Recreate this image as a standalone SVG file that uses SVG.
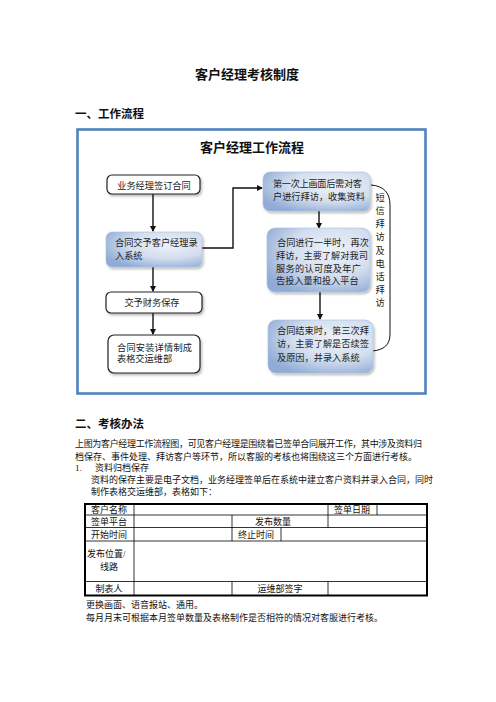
<svg xmlns="http://www.w3.org/2000/svg" width="496" height="702" viewBox="0 0 496 702">
<style>
text{font-family:"Liberation Serif","Noto Sans CJK SC",serif;fill:#111;}
.h{font-family:"Noto Sans CJK SC",sans-serif;font-weight:bold;}
.t{font-size:9px;}
.b{font-size:9.2px;fill:#222;}
.wbox{fill:#fff;stroke:#222;stroke-width:1.2;}
.bbox{fill:url(#bg);stroke:#a8bddb;stroke-width:0.6;}
.ln{fill:none;stroke:#111;stroke-width:1.4;}
.cv{fill:none;stroke:#111;stroke-width:1;}
.tb{fill:none;stroke:#000;stroke-width:0.8;}
</style>
<defs>
<radialGradient id="bg" cx="0.65" cy="0.35" r="0.75">
<stop offset="0" stop-color="#eef2f9"/>
<stop offset="0.55" stop-color="#d2ddee"/>
<stop offset="1" stop-color="#8fabd6"/>
</radialGradient>
<filter id="sh" x="-10%" y="-10%" width="130%" height="140%">
<feDropShadow dx="1.5" dy="2" stdDeviation="1.2" flood-color="#000" flood-opacity="0.25"/>
</filter>
<marker id="ar" markerWidth="6" markerHeight="6" refX="5" refY="3" orient="auto" markerUnits="userSpaceOnUse">
<path d="M0,0 L6,3 L0,6 Z" fill="#111"/>
</marker>
</defs>
<rect width="496" height="702" fill="#fff"/>
<text class="h" x="247" y="79" font-size="13" text-anchor="middle">客户经理考核制度</text>
<text class="h" x="75" y="118" font-size="11.5">一、工作流程</text>
<rect x="77.5" y="129.5" width="348" height="264" fill="#fff" stroke="#4f81bd" stroke-width="2.6"/>
<text class="h" x="252" y="152" font-size="13" text-anchor="middle">客户经理工作流程</text>
<g id="connectors">
<line class="ln" x1="153" y1="194" x2="153" y2="231" marker-end="url(#ar)"/>
<line class="ln" x1="153" y1="267" x2="153" y2="291" marker-end="url(#ar)"/>
<line class="ln" x1="153" y1="313" x2="153" y2="334" marker-end="url(#ar)"/>
<path class="ln" d="M202,248 H233 V188 H262" marker-end="url(#ar)"/>
<line class="ln" x1="319" y1="211" x2="319" y2="228" marker-end="url(#ar)"/>
<line class="ln" x1="320" y1="292" x2="320" y2="319" marker-end="url(#ar)"/>
<path class="cv" d="M371,185 C384,186 390,193 390,205 L390,334 C390,345 384,350 372,351"/>
</g>
<g id="nodeA"><rect class="wbox" x="107" y="175" width="93" height="19" rx="5" filter="url(#sh)"/>
<text class="b" x="154" y="188.5" text-anchor="middle">业务经理签订合同</text></g>
<g id="nodeB"><rect class="bbox" x="106" y="232" width="96" height="35" rx="6" filter="url(#sh)"/>
<text class="b" x="115" y="246">合同交予客户经理录</text><text class="b" x="115" y="259">入系统</text></g>
<g id="nodeC"><rect class="wbox" x="106" y="292" width="96" height="21" rx="5" filter="url(#sh)"/>
<text class="b" x="152" y="306" text-anchor="middle">交予财务保存</text></g>
<g id="nodeD"><rect class="wbox" x="108" y="335" width="92" height="38" rx="6" filter="url(#sh)"/>
<text class="b" x="117" y="350.5" textLength="75">合同安装详情制成</text><text class="b" x="117" y="362">表格交运维部</text></g>
<g id="nodeE"><rect class="bbox" x="263" y="172" width="107" height="39" rx="7" filter="url(#sh)"/>
<text class="b" x="273" y="186.5" textLength="89">第一次上画面后需对客</text><text class="b" x="273" y="199.5">户进行拜访，收集资料</text></g>
<g id="nodeF"><rect class="bbox" x="267" y="228" width="103" height="64" rx="8" filter="url(#sh)"/>
<text class="b" x="277" y="245.5">合同进行一半时，再次</text><text class="b" x="276" y="258.5">拜访，主要了解对我司</text><text class="b" x="276" y="271.5" textLength="85">服务的认可度及年广</text><text class="b" x="276" y="283.5">告投入量和投入平台</text></g>
<g id="nodeG"><rect class="bbox" x="268" y="320" width="105" height="53" rx="8" filter="url(#sh)"/>
<text class="b" x="277" y="333.5">合同结束时，第三次拜</text><text class="b" x="277" y="346.5">访，主要了解是否续签</text><text class="b" x="277" y="360.5">及原因，并录入系统</text></g>
<g id="label-side" class="b" text-anchor="middle">
<text class="b" x="380" y="200.5">短</text><text class="b" x="380" y="213.5">信</text><text class="b" x="380" y="227">拜</text><text class="b" x="380" y="240">访</text><text class="b" x="380" y="253.5">及</text><text class="b" x="380" y="266.5">电</text><text class="b" x="380" y="279.5">话</text><text class="b" x="380" y="292.5">拜</text><text class="b" x="380" y="305.5">访</text>
</g>
<text class="h" x="75" y="428" font-size="11.5">二、考核办法</text>
<text class="t" x="75" y="446.5" textLength="347">上图为客户经理工作流程图，可见客户经理是围绕着已签单合同展开工作，其中涉及资料归</text>
<text class="t" x="75" y="459.5">档保存、事件处理、拜访客户等环节，所以客服的考核也将围绕这三个方面进行考核。</text>
<text class="t" x="75" y="470.5">1.</text>
<text class="t" x="95" y="470.5">资料归档保存</text>
<text class="t" x="91" y="482.5">资料的保存主要是电子文档，业务经理签单后在系统中建立客户资料并录入合同，同时</text>
<text class="t" x="91" y="494.5">制作表格交运维部，表格如下：</text>
<g id="table">
<path class="tb" d="M85,515 H427 M85,527.5 H427 M85,541 H427 M85,581.5 H427 M134,504 V595.5 M328,504 V527.5 M377,504 V515 M232,515 V541 M281,527.5 V541 M232,581.5 V595.5 M328,581.5 V595.5"/>
<rect x="85" y="504" width="342" height="91.5" fill="none" stroke="#000" stroke-width="2"/>
<text class="t" x="109" y="512.5" text-anchor="middle">客户名称</text>
<text class="t" x="352" y="512.5" text-anchor="middle">签单日期</text>
<text class="t" x="109" y="524.5" text-anchor="middle">签单平台</text>
<text class="t" x="273" y="524.5" text-anchor="middle">发布数量</text>
<text class="t" x="109" y="537.5" text-anchor="middle">开始时间</text>
<text class="t" x="256" y="537.5" text-anchor="middle">终止时间</text>
<text class="t" x="87" y="556.5">发布位置/</text>
<text class="t" x="109" y="570" text-anchor="middle">线路</text>
<text class="t" x="109" y="591.5" text-anchor="middle">制表人</text>
<text class="t" x="280" y="591.5" text-anchor="middle">运维部签字</text>
</g>
<text class="t" x="86" y="608">更换画面、语音报站、通用。</text>
<text class="t" x="86" y="621">每月月末可根据本月签单数量及表格制作是否相符的情况对客服进行考核。</text>
</svg>
